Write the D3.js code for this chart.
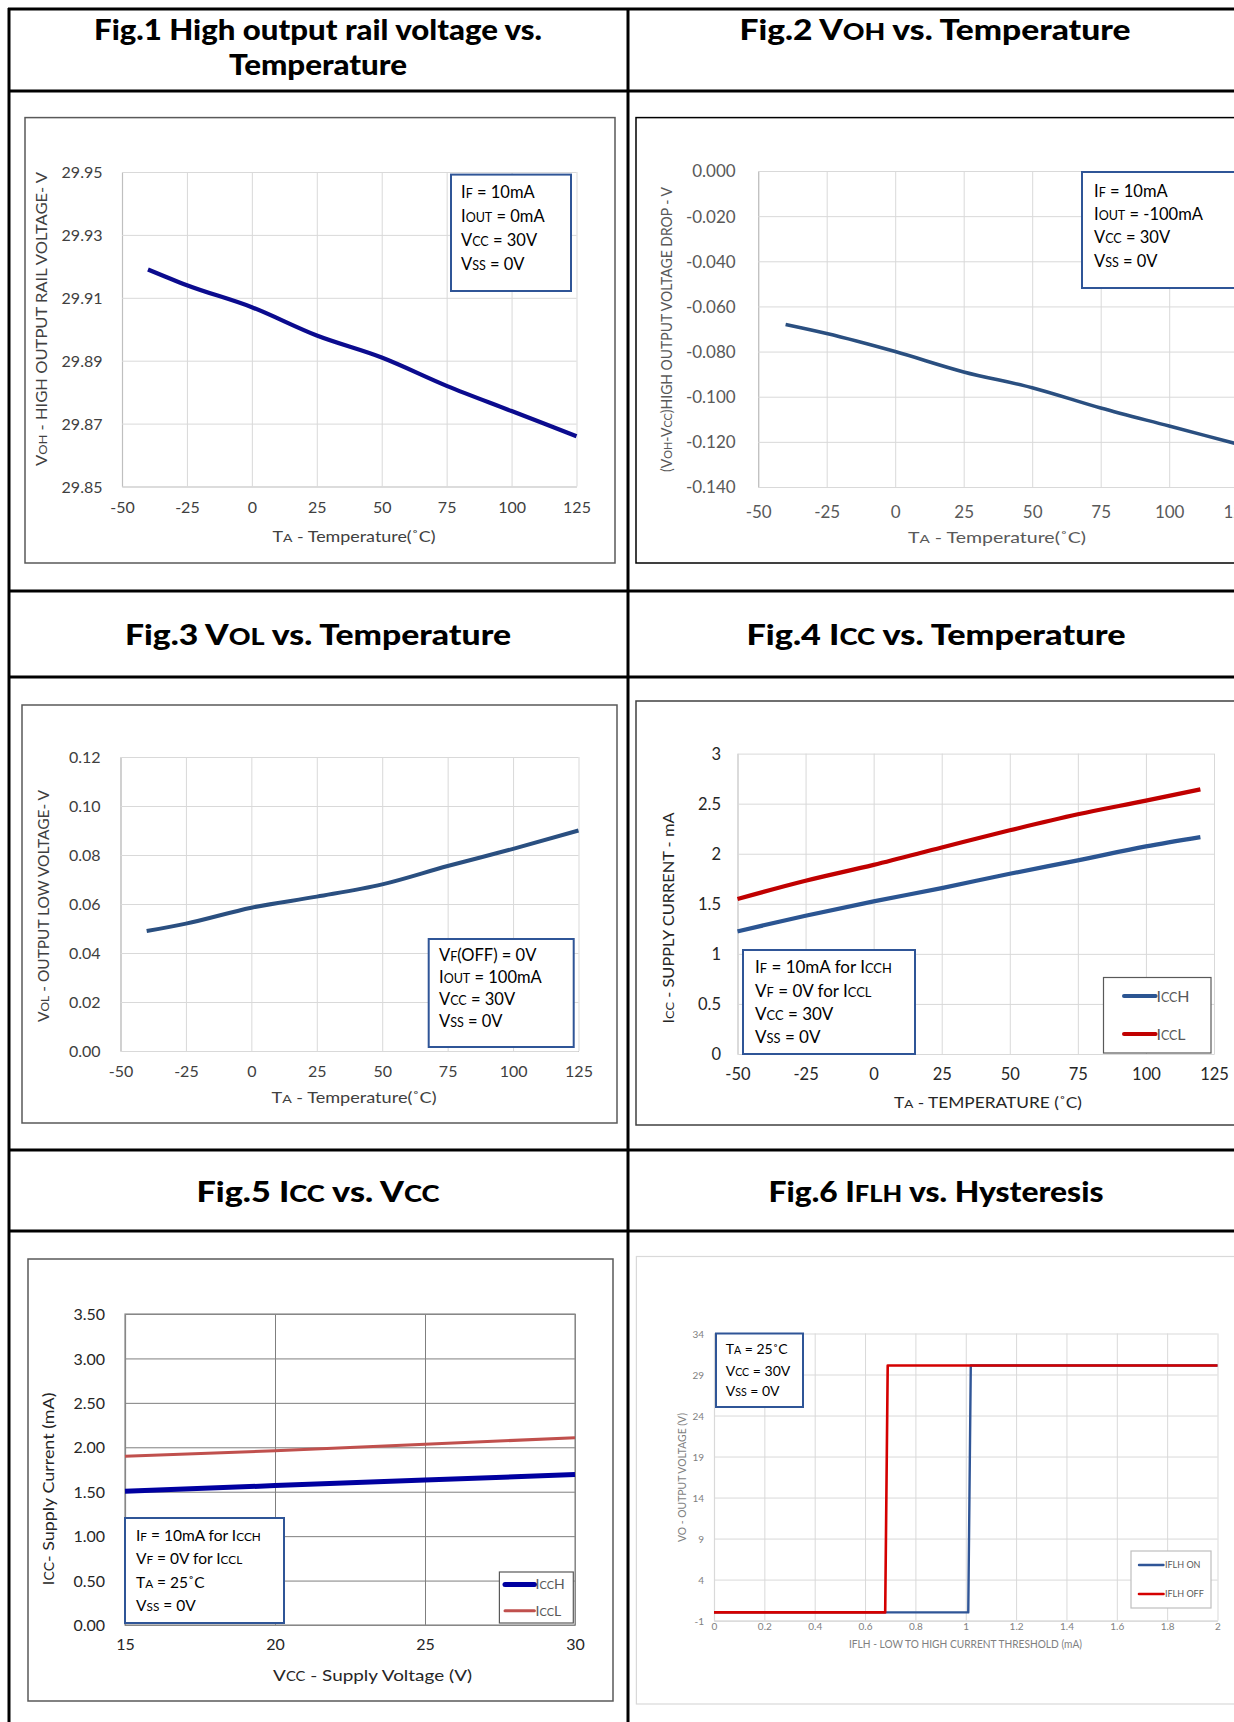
<!DOCTYPE html>
<html>
<head>
<meta charset="utf-8">
<script src="https://cdn.jsdelivr.net/npm/d3@7"></script>
<style>
  html, body { margin: 0; padding: 0; background: #fff; }
  svg { display: block; }
</style>
</head>
<body>
<script>
// ---------------- DATA ----------------
const tempTicks = [-50, -25, 0, 25, 50, 75, 100, 125];
const tempTickLabels = ["-50", "-25", "0", "25", "50", "75", "100", "125"];

// Fig.1 High output rail voltage vs. temperature
const fig1Temp = [-40, -25, 0, 25, 50, 75, 100, 125];
const fig1Voh = [29.919, 29.914, 29.907, 29.898, 29.891, 29.882, 29.874, 29.866];
const fig1YTicks = [29.85, 29.87, 29.89, 29.91, 29.93, 29.95];
const fig1YLabels = ["29.85", "29.87", "29.89", "29.91", "29.93", "29.95"];

// Fig.2 VOH drop vs. temperature
const fig2Temp = [-40, -25, 0, 25, 50, 75, 100, 125];
const fig2Drop = [-0.068, -0.072, -0.080, -0.089, -0.096, -0.105, -0.113, -0.121];
const fig2YTicks = [-0.14, -0.12, -0.10, -0.08, -0.06, -0.04, -0.02, 0];
const fig2YLabels = ["-0.140", "-0.120", "-0.100", "-0.080", "-0.060", "-0.040", "-0.020", "0.000"];

// Fig.3 VOL vs. temperature
const fig3Temp = [-40, -25, 0, 25, 50, 75, 100, 125];
const fig3Vol = [0.049, 0.052, 0.0585, 0.063, 0.068, 0.0755, 0.0825, 0.090];
const fig3YTicks = [0, 0.02, 0.04, 0.06, 0.08, 0.10, 0.12];
const fig3YLabels = ["0.00", "0.02", "0.04", "0.06", "0.08", "0.10", "0.12"];

// Fig.4 ICC vs. temperature
const fig4Temp = [-50, -25, 0, 25, 50, 75, 100, 120];
const fig4IccH = [1.225, 1.381, 1.524, 1.657, 1.800, 1.934, 2.073, 2.166];
const fig4IccL = [1.548, 1.730, 1.889, 2.062, 2.234, 2.394, 2.530, 2.643];
const fig4YTicks = [0, 0.5, 1, 1.5, 2, 2.5, 3];
const fig4YLabels = ["0", "0.5", "1", "1.5", "2", "2.5", "3"];

// Fig.5 ICC vs. VCC
const fig5Vcc = [15, 20, 25, 30];
const fig5IccH = [1.504, 1.569, 1.631, 1.693];
const fig5IccL = [1.898, 1.960, 2.034, 2.108];
const fig5XTicks = [15, 20, 25, 30];
const fig5XLabels = ["15", "20", "25", "30"];
const fig5YTicks = [0, 0.5, 1, 1.5, 2, 2.5, 3, 3.5];
const fig5YLabels = ["0.00", "0.50", "1.00", "1.50", "2.00", "2.50", "3.00", "3.50"];

// Fig.6 IFLH hysteresis
const fig6OnI = [0, 1.01, 1.02, 2];
const fig6OnV = [0, 0, 30.1, 30.1];
const fig6OffI = [0, 0.68, 0.69, 2];
const fig6OffV = [0, 0, 30.1, 30.1];
const fig6XTicks = [0, 0.2, 0.4, 0.6, 0.8, 1, 1.2, 1.4, 1.6, 1.8, 2];
const fig6XLabels = ["0", "0.2", "0.4", "0.6", "0.8", "1", "1.2", "1.4", "1.6", "1.8", "2"];
const fig6YTicks = [-1, 4, 9, 14, 19, 24, 29, 34];
const fig6YLabels = ["-1", "4", "9", "14", "19", "24", "29", "34"];

// ---------------- DRAWING ----------------
const W = 1234, H = 1722;
const svg = d3.select("body").append("svg").attr("width", W).attr("height", H);
svg.append("rect").attr("width", W).attr("height", H).attr("fill", "#fff");

const FONT = "Lato, 'Open Sans', sans-serif";

function rich(t, str, small) {
  str.split(/(\{[^}]*\})/).forEach(p => {
    if (!p) return;
    if (p[0] === "{") t.append("tspan").attr("font-size", small).text(p.slice(1, -1));
    else t.append("tspan").text(p);
  });
  return t;
}

function label(parent, x, y, str, opt) {
  const t = parent.append("text")
    .attr("x", x).attr("y", y).attr("dy", "0.35em")
    .attr("text-anchor", opt.anchor || "middle")
    .attr("font-family", FONT)
    .attr("font-size", opt.size)
    .attr("font-weight", opt.weight || "normal")
    .attr("fill", opt.color || "#000");
  if (opt.rotate) t.attr("transform", `rotate(-90,${x},${y})`);
  rich(t, str, opt.small || "0.78em");
  if (opt.len) t.attr("textLength", opt.len).attr("lengthAdjust", opt.adjust || "spacingAndGlyphs");
  return t;
}

// ---- table ----
const table = svg.append("g").attr("stroke", "#000").attr("stroke-width", 3);
[9, 91, 591, 677, 1150, 1231].forEach(yy =>
  table.append("line").attr("x1", 8).attr("x2", 1250).attr("y1", yy).attr("y2", yy));
[9, 628].forEach(xx =>
  table.append("line").attr("x1", xx).attr("x2", xx).attr("y1", 8).attr("y2", 1730));

// ---- titles ----
const T = { size: 28, weight: 900, small: "0.8em" };
label(svg, 318, 30.5, "Fig.1 High output rail voltage vs.", { ...T, len: 448 });
label(svg, 318, 65.5, "Temperature", { ...T, len: 178 });
label(svg, 935, 30.5, "Fig.2 V{OH} vs. Temperature", { ...T, len: 391 });
label(svg, 318, 635.5, "Fig.3 V{OL} vs. Temperature", { ...T, len: 386 });
label(svg, 936, 635.5, "Fig.4 I{CC} vs. Temperature", { ...T, len: 379 });
label(svg, 318, 1192, "Fig.5 I{CC} vs. V{CC}", { ...T, len: 243 });
label(svg, 936, 1192, "Fig.6 I{FLH} vs. Hysteresis", { ...T, len: 335 });

function drawChart(c) {
  const g = svg.append("g");
  g.append("rect")
    .attr("x", c.frame[0]).attr("y", c.frame[1])
    .attr("width", c.frame[2] - c.frame[0]).attr("height", c.frame[3] - c.frame[1])
    .attr("fill", "#fff").attr("stroke", c.frameColor).attr("stroke-width", c.frameWidth || 1.5);

  const [px0, py0, px1, py1] = c.plot;
  const x = d3.scaleLinear().domain(c.xDomain).range([px0, px1]);
  const y = d3.scaleLinear().domain(c.yDomain).range([py1, py0]);

  const xa = g.append("g").attr("transform", `translate(0,${py1})`)
    .call(d3.axisBottom(x).tickValues(c.xTicks).tickFormat((d, i) => c.xLabels[i])
      .tickSize(-(py1 - py0)).tickSizeOuter(0));
  const ya = g.append("g").attr("transform", `translate(${px0},0)`)
    .call(d3.axisLeft(y).tickValues(c.yTicks).tickFormat((d, i) => c.yLabels[i])
      .tickSize(-(px1 - px0)).tickSizeOuter(0));
  [xa, ya].forEach(a => {
    a.attr("font-family", FONT).attr("font-size", c.tickSize);
    a.selectAll(".tick line").attr("stroke", c.gridColor).attr("stroke-width", c.gridWidth || 1);
    a.selectAll("text").attr("fill", c.tickColor);
  });
  xa.select(".domain").attr("stroke", c.axisColor).attr("stroke-width", 1.2);
  ya.select(".domain").attr("stroke", c.axisColor).attr("stroke-width", 1.2);
  xa.selectAll("text").attr("y", c.xTickOff).attr("dy", "0.35em");
  ya.selectAll("text").attr("x", -c.yTickOff).attr("dy", "0.35em");
  if (c.box) {
    g.append("rect").attr("x", px0).attr("y", py0).attr("width", px1 - px0).attr("height", py1 - py0)
      .attr("fill", "none").attr("stroke", c.box).attr("stroke-width", 1.2);
  }

  // axis titles
  label(g, c.yLabelPos[0], c.yLabelPos[1], c.yLabel,
    { size: c.labelSize, color: c.labelColor, rotate: true, len: c.yLabelLen });
  label(g, c.xLabelPos[0], c.xLabelPos[1], c.xLabel,
    { size: c.labelSize, color: c.labelColor, len: c.xLabelLen });

  // series
  c.series.forEach(s => {
    const pts = s.x.map((v, i) => [v, s.y[i]]);
    g.append("path").datum(pts)
      .attr("fill", "none").attr("stroke", s.color).attr("stroke-width", s.width)
      .attr("stroke-linejoin", "round").attr("stroke-linecap", s.cap || "butt")
      .attr("d", d3.line().x(d => x(d[0])).y(d => y(d[1])).curve(s.smooth ? d3.curveMonotoneX : d3.curveLinear));
  });

  // info box
  if (c.info) {
    const b = c.info;
    g.append("rect").attr("x", b.rect[0]).attr("y", b.rect[1])
      .attr("width", b.rect[2] - b.rect[0]).attr("height", b.rect[3] - b.rect[1])
      .attr("fill", "#fff").attr("stroke", "#2F5597").attr("stroke-width", 2);
    b.lines.forEach((ln, i) =>
      label(g, b.tx, b.ty[i], ln, { size: b.size, anchor: "start", color: "#000", small: "0.76em" }));
  }

  // legend
  if (c.legend) {
    const L = c.legend;
    g.append("rect").attr("x", L.rect[0]).attr("y", L.rect[1])
      .attr("width", L.rect[2] - L.rect[0]).attr("height", L.rect[3] - L.rect[1])
      .attr("fill", "#fff").attr("stroke", L.stroke).attr("stroke-width", 1.2);
    L.items.forEach((it, i) => {
      g.append("line").attr("x1", L.lx[0]).attr("x2", L.lx[1]).attr("y1", L.ly[i]).attr("y2", L.ly[i])
        .attr("stroke", it.color).attr("stroke-width", it.width).attr("stroke-linecap", "round");
      label(g, L.tx, L.ly[i], it.name, { size: L.size, anchor: "start", color: "#595959", small: "0.78em" });
    });
  }
}

// Fig.1
drawChart({
  frame: [25, 117.6, 615, 563], frameColor: "#595959",
  plot: [122, 172, 576.5, 486.5],
  xDomain: [-50, 125], yDomain: [29.85, 29.95],
  xTicks: tempTicks, xLabels: tempTickLabels, yTicks: fig1YTicks, yLabels: fig1YLabels,
  tickSize: 16, tickColor: "#404040", gridColor: "#d9d9d9", axisColor: "#bfbfbf",
  xTickOff: 20.5, yTickOff: 19.5,
  yLabel: "V{OH} - HIGH OUTPUT RAIL VOLTAGE- V", yLabelPos: [42, 319], yLabelLen: 294,
  xLabel: "T{A} - Temperature(˚C)", xLabelPos: [354, 536.5], xLabelLen: 163,
  labelSize: 15, labelColor: "#404040",
  series: [{ x: fig1Temp, y: fig1Voh, color: "#0B0B8E", width: 4.2, smooth: true }],
  info: { rect: [451, 174.6, 571, 291], tx: 461, ty: [192, 216, 240, 264], size: 16.5,
    lines: ["I{F} = 10mA", "I{OUT} = 0mA", "V{CC} = 30V", "V{SS} = 0V"] }
});

// Fig.2
drawChart({
  frame: [636, 117.6, 1250, 563], frameColor: "#000",
  plot: [758.2, 171, 1237.7, 487],
  xDomain: [-50, 125], yDomain: [-0.14, 0],
  xTicks: tempTicks, xLabels: tempTickLabels, yTicks: fig2YTicks, yLabels: fig2YLabels,
  tickSize: 17, tickColor: "#595959", gridColor: "#d9d9d9", axisColor: "#bfbfbf",
  xTickOff: 25, yTickOff: 22.5,
  yLabel: "(V{OH}-V{CC})HIGH OUTPUT VOLTAGE DROP - V", yLabelPos: [667, 329.5], yLabelLen: 285,
  xLabel: "T{A} - Temperature(˚C)", xLabelPos: [997, 538], xLabelLen: 178,
  labelSize: 15, labelColor: "#595959",
  series: [{ x: fig2Temp, y: fig2Drop, color: "#2A4F80", width: 3.6, smooth: true }],
  info: { rect: [1082, 172, 1250, 288], tx: 1094, ty: [191.3, 214.2, 237.1, 260.8], size: 16.5,
    lines: ["I{F} = 10mA", "I{OUT} = -100mA", "V{CC} = 30V", "V{SS} = 0V"] }
});

// Fig.3
drawChart({
  frame: [22, 705, 617, 1123], frameColor: "#595959",
  plot: [120.5, 757, 578.5, 1051],
  xDomain: [-50, 125], yDomain: [0, 0.12],
  xTicks: tempTicks, xLabels: tempTickLabels, yTicks: fig3YTicks, yLabels: fig3YLabels,
  tickSize: 16, tickColor: "#404040", gridColor: "#d9d9d9", axisColor: "#bfbfbf",
  xTickOff: 20, yTickOff: 20,
  yLabel: "V{OL} - OUTPUT LOW VOLTAGE- V", yLabelPos: [44, 906], yLabelLen: 232,
  xLabel: "T{A} - Temperature(˚C)", xLabelPos: [354, 1098], xLabelLen: 165,
  labelSize: 15, labelColor: "#404040",
  series: [{ x: fig3Temp, y: fig3Vol, color: "#2A4F80", width: 4, smooth: true }],
  info: { rect: [428.7, 939, 573.7, 1047], tx: 439, ty: [955, 977, 999, 1021], size: 16.5,
    lines: ["V{F}(OFF) = 0V", "I{OUT} = 100mA", "V{CC} = 30V", "V{SS} = 0V"] }
});

// Fig.4
drawChart({
  frame: [636, 701, 1250, 1125], frameColor: "#404040",
  plot: [737.5, 753.6, 1214, 1054],
  xDomain: [-50, 125], yDomain: [0, 3],
  xTicks: tempTicks, xLabels: tempTickLabels, yTicks: fig4YTicks, yLabels: fig4YLabels,
  tickSize: 16.5, tickColor: "#262626", gridColor: "#d9d9d9", axisColor: "#d0d0d0",
  xTickOff: 20, yTickOff: 16.5,
  yLabel: "I{CC} - SUPPLY CURRENT - mA", yLabelPos: [669, 918], yLabelLen: 211,
  xLabel: "T{A} - TEMPERATURE (˚C)", xLabelPos: [988, 1103], xLabelLen: 188,
  labelSize: 15, labelColor: "#262626",
  series: [
    { x: fig4Temp, y: fig4IccH, color: "#2B5592", width: 4.2, smooth: true },
    { x: fig4Temp, y: fig4IccL, color: "#C00000", width: 4.2, smooth: true }
  ],
  info: { rect: [743, 950, 915, 1054], tx: 755, ty: [967.5, 990.7, 1014, 1037], size: 17,
    lines: ["I{F} = 10mA for I{CCH}", "V{F} = 0V for I{CCL}", "V{CC} = 30V", "V{SS} = 0V"] },
  legend: { rect: [1103.5, 977.5, 1211, 1053], stroke: "#595959", lx: [1124, 1155.6], ly: [996, 1034],
    tx: 1156.4, size: 16,
    items: [{ name: "I{CC}H", color: "#2B5592", width: 4 }, { name: "I{CC}L", color: "#C00000", width: 4 }] }
});

// Fig.5
drawChart({
  frame: [28, 1259, 613, 1701], frameColor: "#595959",
  plot: [125, 1314, 575, 1625],
  xDomain: [15, 30], yDomain: [0, 3.5],
  xTicks: fig5XTicks, xLabels: fig5XLabels, yTicks: fig5YTicks, yLabels: fig5YLabels,
  tickSize: 16, tickColor: "#262626", gridColor: "#7f7f7f", axisColor: "#7f7f7f", box: "#8c8c8c",
  xTickOff: 19, yTickOff: 20,
  yLabel: "I{CC}- Supply Current (mA)", yLabelPos: [48, 1489], yLabelLen: 193,
  xLabel: "V{CC} - Supply Voltage  (V)", xLabelPos: [372.6, 1675], xLabelLen: 199,
  labelSize: 16, labelColor: "#262626",
  series: [
    { x: fig5Vcc, y: fig5IccH, color: "#0000A0", width: 5 },
    { x: fig5Vcc, y: fig5IccL, color: "#C0504D", width: 3 }
  ],
  info: { rect: [125, 1518, 284, 1623], tx: 136, ty: [1535.6, 1558.6, 1582.3, 1606], size: 15.5,
    lines: ["I{F} = 10mA for I{CCH}", "V{F} = 0V for I{CCL}", "T{A} = 25˚C", "V{SS} = 0V"] },
  legend: { rect: [499.4, 1572, 573.3, 1623], stroke: "#595959", lx: [505, 534.4], ly: [1584.5, 1610.8],
    tx: 535.6, size: 14,
    items: [{ name: "I{CC}H", color: "#0000A0", width: 5 }, { name: "I{CC}L", color: "#C0504D", width: 3 }] }
});

// Fig.6
drawChart({
  frame: [636.4, 1256.5, 1250, 1704], frameColor: "#d9d9d9", frameWidth: 1.2,
  plot: [714, 1333.5, 1217.5, 1620.6],
  xDomain: [0, 2], yDomain: [-1, 34],
  xTicks: fig6XTicks, xLabels: fig6XLabels, yTicks: fig6YTicks, yLabels: fig6YLabels,
  tickSize: 10, tickColor: "#7f7f7f", gridColor: "#d9d9d9", axisColor: "#d9d9d9",
  xTickOff: 6, yTickOff: 10,
  yLabel: "VO - OUTPUT VOLTAGE (V)", yLabelPos: [682.6, 1477.5], yLabelLen: 129,
  xLabel: "IFLH - LOW TO HIGH CURRENT THRESHOLD (mA)", xLabelPos: [965.5, 1644], xLabelLen: 233,
  labelSize: 10.5, labelColor: "#7f7f7f",
  series: [
    { x: fig6OnI, y: fig6OnV, color: "#2F5597", width: 2.4 },
    { x: fig6OffI, y: fig6OffV, color: "#D40000", width: 2.6 }
  ],
  info: { rect: [716, 1333.5, 803, 1407], tx: 725.7, ty: [1349, 1371, 1391], size: 14,
    lines: ["T{A} = 25˚C", "V{CC} = 30V", "V{SS} = 0V"] },
  legend: { rect: [1131, 1551, 1211, 1608], stroke: "#bfbfbf", lx: [1139, 1163.5], ly: [1565, 1594],
    tx: 1165, size: 9,
    items: [{ name: "IFLH ON", color: "#2F5597", width: 2.4 }, { name: "IFLH OFF", color: "#D40000", width: 2.6 }] }
});
</script>
</body>
</html>
